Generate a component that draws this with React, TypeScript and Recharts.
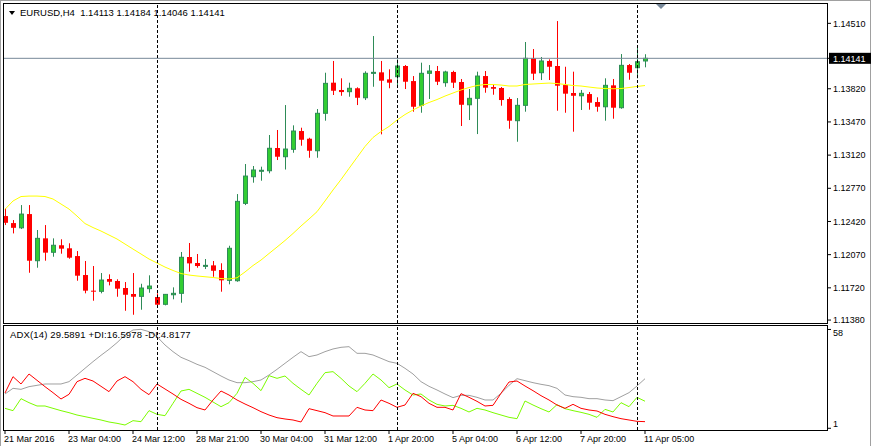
import { Bar, ComposedChart, Line, ReferenceLine, XAxis, YAxis } from "recharts";

// EURUSD H4 candles, left to right
const opens = [
  1.12477, 1.12403, 1.12353, 1.12498, 1.12006, 1.12242, 1.12095, 1.12169, 1.12137, 1.12055,
  1.11855, 1.1169, 1.11683, 1.11813, 1.11792, 1.11718, 1.11655, 1.1163, 1.11711, 1.11623,
  1.11546, 1.11647, 1.11662, 1.12045, 1.11982, 1.11954, 1.11957, 1.11908, 1.11799, 1.11795,
  1.12611, 1.12892, 1.12957, 1.12955, 1.13195, 1.13103, 1.13181, 1.13374, 1.13293, 1.13166,
  1.13561, 1.13884, 1.13807, 1.13789, 1.13825, 1.13725, 1.13989, 1.13993, 1.13919, 1.13947,
  1.1406, 1.13901, 1.13645, 1.13983, 1.14007, 1.13884, 1.13997, 1.13891, 1.13651, 1.13719,
  1.13954, 1.13838, 1.13828, 1.13712, 1.13483, 1.13645, 1.14141, 1.13989, 1.14113, 1.1406,
  1.13859, 1.13775, 1.13746, 1.13764, 1.1368, 1.1363, 1.13856, 1.1362, 1.1407, 1.14042,
  1.14113,
];
const highs = [
  1.12558, 1.12435, 1.12593, 1.12593, 1.1233, 1.12382, 1.12242, 1.12232, 1.1219, 1.12108,
  1.12003, 1.1195, 1.11876, 1.11862, 1.1181, 1.11781, 1.11876, 1.11763, 1.11852, 1.11662,
  1.11655, 1.11725, 1.12098, 1.12193, 1.12077, 1.12024, 1.12003, 1.11979, 1.12164, 1.12709,
  1.13026, 1.13005, 1.12998, 1.13332, 1.13385, 1.13648, 1.13434, 1.13409, 1.13303, 1.13606,
  1.13989, 1.14113, 1.1393, 1.13884, 1.13835, 1.14004, 1.14376, 1.14113, 1.14025, 1.1413,
  1.1407, 1.13954, 1.14095, 1.1407, 1.1406, 1.1401, 1.1401, 1.13923, 1.13817, 1.14,
  1.14007, 1.1387, 1.13838, 1.1373, 1.13722, 1.14313, 1.14239, 1.14155, 1.1413, 1.14534,
  1.14052, 1.14, 1.13807, 1.13786, 1.1373, 1.1393, 1.13923, 1.14186, 1.14081, 1.1425,
  1.14184,
];
const lows = [
  1.12382, 1.12294, 1.1234, 1.11879, 1.11932, 1.12006, 1.12048, 1.1208, 1.12027, 1.11795,
  1.11662, 1.11584, 1.11662, 1.11746, 1.11626, 1.11478, 1.11436, 1.11489, 1.11668, 1.11507,
  1.11535, 1.11599, 1.11563, 1.1189, 1.11932, 1.11918, 1.11837, 1.11679, 1.11757, 1.11784,
  1.12593, 1.12829, 1.1285, 1.12928, 1.13068, 1.12968, 1.13145, 1.13219, 1.13092, 1.13092,
  1.13483, 1.13754, 1.13746, 1.13736, 1.13648, 1.13701, 1.13841, 1.13339, 1.13825, 1.13859,
  1.13817, 1.13578, 1.13567, 1.13712, 1.13859, 1.13841, 1.13828, 1.13427, 1.1349, 1.13342,
  1.13778, 1.13757, 1.13641, 1.13398, 1.13261, 1.13578, 1.13912, 1.13912, 1.13912, 1.13588,
  1.13567, 1.13367, 1.13596, 1.13599, 1.13578, 1.13483, 1.13504, 1.13609, 1.13915, 1.1393,
  1.14046,
];
const closes = [
  1.12406, 1.12353, 1.12498, 1.12006, 1.12242, 1.12091, 1.12169, 1.12133, 1.12038, 1.11848,
  1.1169, 1.11687, 1.11802, 1.11784, 1.11711, 1.11647, 1.11626, 1.11718, 1.11739, 1.11542,
  1.11651, 1.11662, 1.12042, 1.11978, 1.1195, 1.11957, 1.119, 1.11799, 1.12137, 1.12632,
  1.12899, 1.12963, 1.1296, 1.13192, 1.13103, 1.13184, 1.13374, 1.13282, 1.13166, 1.13561,
  1.13877, 1.13799, 1.13785, 1.13825, 1.13725, 1.13983, 1.13993, 1.13905, 1.13884, 1.1406,
  1.13894, 1.1363, 1.13983, 1.14007, 1.13894, 1.13997, 1.13884, 1.13651, 1.13719, 1.13954,
  1.13831, 1.1382, 1.13701, 1.13483, 1.13645, 1.14141, 1.13979, 1.14113, 1.14052, 1.13852,
  1.13768, 1.13746, 1.13772, 1.13673, 1.1363, 1.13856, 1.1362, 1.14067, 1.13989, 1.14105,
  1.14141,
];
// yellow moving average
const maValues = [
  1.12548, 1.12636, 1.12683, 1.12688, 1.12688, 1.12683, 1.12657, 1.12604, 1.12551, 1.12477,
  1.12398, 1.12356, 1.12319, 1.12277, 1.12235, 1.12182, 1.12129, 1.12077, 1.12024, 1.11982,
  1.11939, 1.11903, 1.11871, 1.11855, 1.11845, 1.11837, 1.11829, 1.11818, 1.11813, 1.11826,
  1.11887, 1.11955, 1.12013, 1.12082, 1.1215, 1.12219, 1.12293, 1.12372, 1.12446, 1.12523,
  1.12636, 1.12752, 1.12862, 1.12979, 1.13095, 1.13211, 1.13306, 1.13369, 1.13422, 1.1349,
  1.13548, 1.13596, 1.13638, 1.13675, 1.13706, 1.13743, 1.13775, 1.13807, 1.13833, 1.13854,
  1.13865, 1.13865, 1.13859, 1.13849, 1.13849, 1.13865, 1.1387, 1.13875, 1.1388, 1.13875,
  1.13865, 1.13854, 1.13849, 1.13838, 1.13828, 1.13822, 1.1382, 1.13822, 1.13833, 1.13844,
  1.13854,
];
// ADX(14) window
const adxValues = [
  20.8, 24.04, 23.46, 25.0, 25.77, 26.54, 26.54, 26.54, 27.89, 31.73,
  35.58, 39.43, 43.08, 46.54, 50.39, 54.81, 57.7, 58.08, 56.74, 53.85,
  49.04, 45.2, 41.93, 40.0, 37.89, 36.16, 33.66, 31.16, 28.85, 27.31,
  27.31, 27.89, 28.85, 31.73, 35.0, 38.47, 41.93, 45.2, 42.31, 43.27,
  45.2, 46.74, 47.7, 48.08, 44.24, 44.24, 43.27, 41.35, 39.43, 38.47,
  35.58, 32.31, 27.89, 25.19, 23.08, 20.77, 18.66, 20.0, 20.0, 18.85,
  17.31, 17.31, 21.16, 25.77, 29.62, 28.47, 27.31, 26.35, 25.58, 24.04,
  20.19, 19.23, 18.85, 18.08, 18.08, 17.31, 16.93, 19.23, 21.54, 25.39,
  29.59,
];
const plusDI = [
  12.5, 11.16, 18.08, 15.77, 13.85, 13.85, 12.5, 11.16, 10.0, 8.65,
  7.69, 6.73, 5.77, 4.62, 3.85, 2.88, 5.39, 4.81, 11.16, 9.04,
  8.27, 15.39, 22.5, 23.46, 21.16, 18.85, 16.16, 13.46, 15.77, 21.16,
  30.39, 26.93, 22.69, 31.35, 29.81, 31.16, 26.93, 23.46, 20.19, 26.93,
  33.08, 33.66, 29.81, 25.39, 22.12, 26.93, 32.31, 28.85, 24.43, 26.54,
  23.08, 20.19, 20.77, 17.31, 14.81, 13.85, 14.23, 12.5, 10.39, 12.5,
  11.54, 10.0, 8.65, 7.31, 6.54, 16.73, 14.42, 12.31, 10.39, 14.62,
  12.31, 11.16, 10.19, 9.04, 7.31, 11.92, 10.39, 15.77, 13.46, 18.85,
  16.6,
];
const minusDI = [
  21.35, 30.77, 26.54, 32.31, 28.66, 25.0, 21.54, 17.89, 20.58, 27.89,
  29.81, 28.27, 25.19, 22.12, 28.27, 30.77, 27.89, 23.46, 20.39, 26.54,
  23.66, 20.77, 17.69, 15.39, 12.89, 11.54, 17.31, 22.5, 20.19, 17.31,
  15.0, 12.89, 10.58, 8.65, 7.12, 6.35, 5.77, 4.62, 12.31, 11.16,
  10.0, 8.08, 8.08, 8.08, 13.08, 11.54, 11.16, 17.31, 15.39, 13.08,
  14.42, 21.16, 19.23, 15.39, 13.08, 13.08, 11.54, 20.96, 18.85, 16.54,
  13.85, 14.23, 21.16, 27.7, 28.27, 25.39, 22.69, 19.81, 17.31, 14.42,
  12.5, 14.81, 12.5, 11.54, 10.96, 9.04, 7.69, 6.54, 5.77, 5.0,
  4.82,
];

const timeTicks = [0, 8, 16, 24, 32, 40, 48, 56, 64, 72, 80];
const timeLabels = [
  "21 Mar 2016", "23 Mar 04:00", "24 Mar 12:00", "28 Mar 21:00", "30 Mar 04:00",
  "31 Mar 12:00", "1 Apr 20:00", "5 Apr 04:00", "6 Apr 12:00", "7 Apr 20:00", "11 Apr 05:00",
];
const weekSeparators = [19, 49, 79];
const priceTicks = [1.1451, 1.1382, 1.1347, 1.1312, 1.1277, 1.1242, 1.1207, 1.1172, 1.1138];
const lastClose = 1.14141;
const adxTicks = [58, 1];

const data = opens.map((open, i) => ({
  i,
  open,
  high: highs[i],
  low: lows[i],
  close: closes[i],
  range: [lows[i], highs[i]],
  ma: maValues[i],
  adx: adxValues[i],
  plusDI: plusDI[i],
  minusDI: minusDI[i],
}));

const FONT = "'Liberation Sans', Arial, sans-serif";
const xDomain = [-0.125, 102.75];

const Candle = (props: any) => {
  const { x, y, width, height, payload } = props;
  if (x == null || !payload) return null;
  const { open, high, low, close } = payload;
  const top = Math.min(y, y + height);
  const k = Math.abs(height) / (high - low || 1);
  const toY = (v: number) => top + (high - v) * k;
  const cx = Math.round(x + width / 2) + 0.5;
  const bull = close > open;
  const bTop = toY(Math.max(open, close));
  const bh = Math.max(toY(Math.min(open, close)) - bTop, 1);
  const wick = bull ? "#2E8B57" : "#FF0000";
  return (
    <g>
      <line x1={cx} x2={cx} y1={toY(high)} y2={toY(low)} stroke={wick} />
      {bull ? (
        <rect x={cx - 2} y={bTop} width={4} height={bh} fill="#32CD32" stroke="#2E8B57" />
      ) : (
        <rect x={cx - 2.5} y={bTop} width={5} height={bh} fill="#FF0000" />
      )}
    </g>
  );
};

const PriceTick = (props: any) => {
  const { x, y, payload } = props;
  const v = payload.value;
  if (Math.abs(v - lastClose) < 1e-7) {
    return (
      <g>
        <rect x={x - 4} y={y - 5.5} width={44} height={11} fill="#000" />
        <text x={x} y={y} dy="0.355em" fill="#fff" fontSize={9} fontFamily={FONT}>
          {v.toFixed(5)}
        </text>
      </g>
    );
  }
  return (
    <text x={x} y={y} dy="0.355em" fill="#000" fontSize={9} fontFamily={FONT}>
      {v.toFixed(5)}
    </text>
  );
};

const AdxTick = (props: any) => {
  const { x, y, payload } = props;
  const shift = payload.value > 30 ? 3 : -4.5;
  return (
    <text x={x} y={y + shift} dy="0.355em" fill="#000" fontSize={9} fontFamily={FONT}>
      {payload.value}
    </text>
  );
};

const TimeTick = (props: any) => {
  const { x, y, payload } = props;
  const idx = timeTicks.indexOf(payload.value);
  return (
    <text x={x - 1} y={y} dy="0.71em" fill="#000" fontSize={9} fontFamily={FONT} textAnchor="start">
      {timeLabels[idx]}
    </text>
  );
};

export default function App() {
  return (
    <div
      style={{
        position: "absolute",
        left: 0,
        top: 0,
        width: 871,
        height: 446,
        background: "#fff",
        fontFamily: FONT,
        overflow: "hidden",
      }}
    >
      <div style={{ position: "absolute", left: 0, top: 0, width: 869, height: 445, borderTop: "1px solid #a0a0a0", borderLeft: "1px solid #a0a0a0", borderRight: "1px solid #a0a0a0" }} />

      <div style={{ position: "absolute", left: 0, top: 0 }}>
        <ComposedChart width={871} height={330} data={data} margin={{ top: 4, right: 0, bottom: 7, left: 4 }}>
          <XAxis type="number" dataKey="i" domain={xDomain} hide allowDataOverflow />
          <YAxis
            orientation="right"
            width={44}
            domain={[1.11349, 1.14714]}
            allowDataOverflow
            ticks={[...priceTicks, lastClose]}
            interval={0}
            axisLine={false}
            tickLine={{ stroke: "#000" }}
            tickSize={4}
            tickMargin={2}
            tick={<PriceTick />}
          />
          <ReferenceLine y={lastClose} stroke="#778899" strokeWidth={1} />
          <Bar dataKey="range" barSize={5} shape={<Candle />} isAnimationActive={false} />
          <Line dataKey="ma" stroke="#FFFF00" strokeWidth={1} dot={false} isAnimationActive={false} />
          {weekSeparators.map((s) => (
            <ReferenceLine key={s} x={s} stroke="#000" strokeDasharray="3 2" shapeRendering="crispEdges" />
          ))}
        </ComposedChart>
      </div>

      <div style={{ position: "absolute", left: 0, top: 322 }}>
        <ComposedChart width={871} height={124} data={data} margin={{ top: 4, right: 0, bottom: 0, left: 4 }}>
          <XAxis
            type="number"
            dataKey="i"
            domain={xDomain}
            allowDataOverflow
            ticks={timeTicks}
            interval={0}
            height={16}
            axisLine={false}
            tickLine={{ stroke: "#000" }}
            tickSize={4}
            tickMargin={2}
            tick={<TimeTick />}
          />
          <YAxis
            orientation="right"
            width={44}
            domain={[0, 60]}
            allowDataOverflow
            ticks={adxTicks}
            interval={0}
            axisLine={false}
            tickLine={{ stroke: "#000" }}
            tickSize={4}
            tickMargin={2}
            tick={<AdxTick />}
          />
          <Line dataKey="adx" stroke="#A0A0A0" strokeWidth={1} dot={false} isAnimationActive={false} />
          <Line dataKey="plusDI" stroke="#7CFC00" strokeWidth={1} dot={false} isAnimationActive={false} />
          <Line dataKey="minusDI" stroke="#FF0000" strokeWidth={1} dot={false} isAnimationActive={false} />
          {weekSeparators.map((s) => (
            <ReferenceLine key={s} x={s} stroke="#000" strokeDasharray="3 2" shapeRendering="crispEdges" />
          ))}
        </ComposedChart>
      </div>

      {/* window frames */}
      <div style={{ position: "absolute", left: 3, top: 3, width: 823, height: 319, border: "1px solid #000", pointerEvents: "none" }} />
      <div style={{ position: "absolute", left: 3, top: 325, width: 823, height: 104, border: "1px solid #000", pointerEvents: "none" }} />

      <svg style={{ position: "absolute", left: 0, top: 0 }} width={871} height={20}>
        <polygon points="9,11 15,11 12,15" fill="#000" />
        <polygon points="656,4 666,4 661,9" fill="#778899" />
      </svg>
      <div style={{ position: "absolute", left: 20, top: 7, fontSize: 9.5, lineHeight: "11px", whiteSpace: "pre", color: "#000" }}>
        EURUSD,H4  1.14113 1.14184 1.14046 1.14141
      </div>
      <div style={{ position: "absolute", left: 10, top: 329, fontSize: 9.5, lineHeight: "11px", whiteSpace: "pre", color: "#000", letterSpacing: "0.15px" }}>
        ADX(14) 29.5891 +DI:16.5978 -DI:4.8177
      </div>
    </div>
  );
}
